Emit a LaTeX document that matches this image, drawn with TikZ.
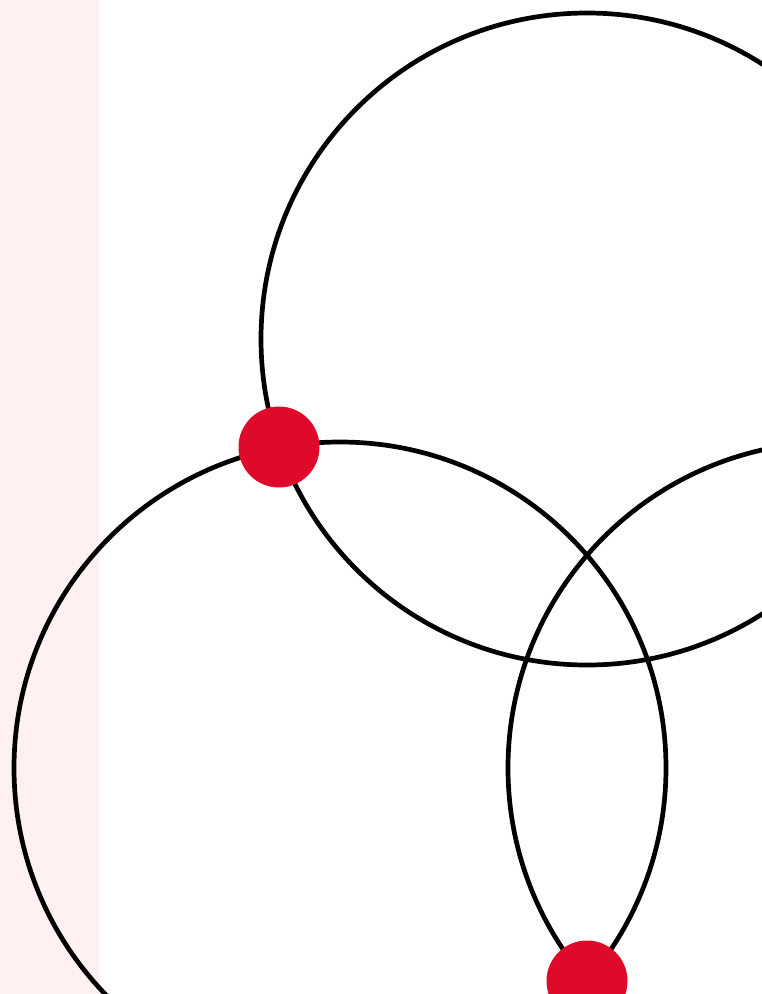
\documentclass[tikz,border=0pt]{standalone}
\begin{document}
\begin{tikzpicture}[x=1pt,y=-1pt,
  ring/.style={draw=black,line width=4.7pt},
  dot/.style={circle,fill=dotred,inner sep=0pt,minimum size=81pt}]
\definecolor{dotred}{HTML}{DF0A2A}
\definecolor{stripe}{HTML}{FFF0F1}
\useasboundingbox (0,0) rectangle (762,994);
\clip (0,0) rectangle (762,994);
\fill[stripe] (0,0) rectangle (99,994);
\draw[ring] (587,339) circle (326);
\draw[ring] (340,768) circle (326);
\draw[ring] (834,768) circle (326);
\node[dot] (d1) at (279,447) {};
\node[dot] (d2) at (587,981) {};
\end{tikzpicture}
\end{document}
